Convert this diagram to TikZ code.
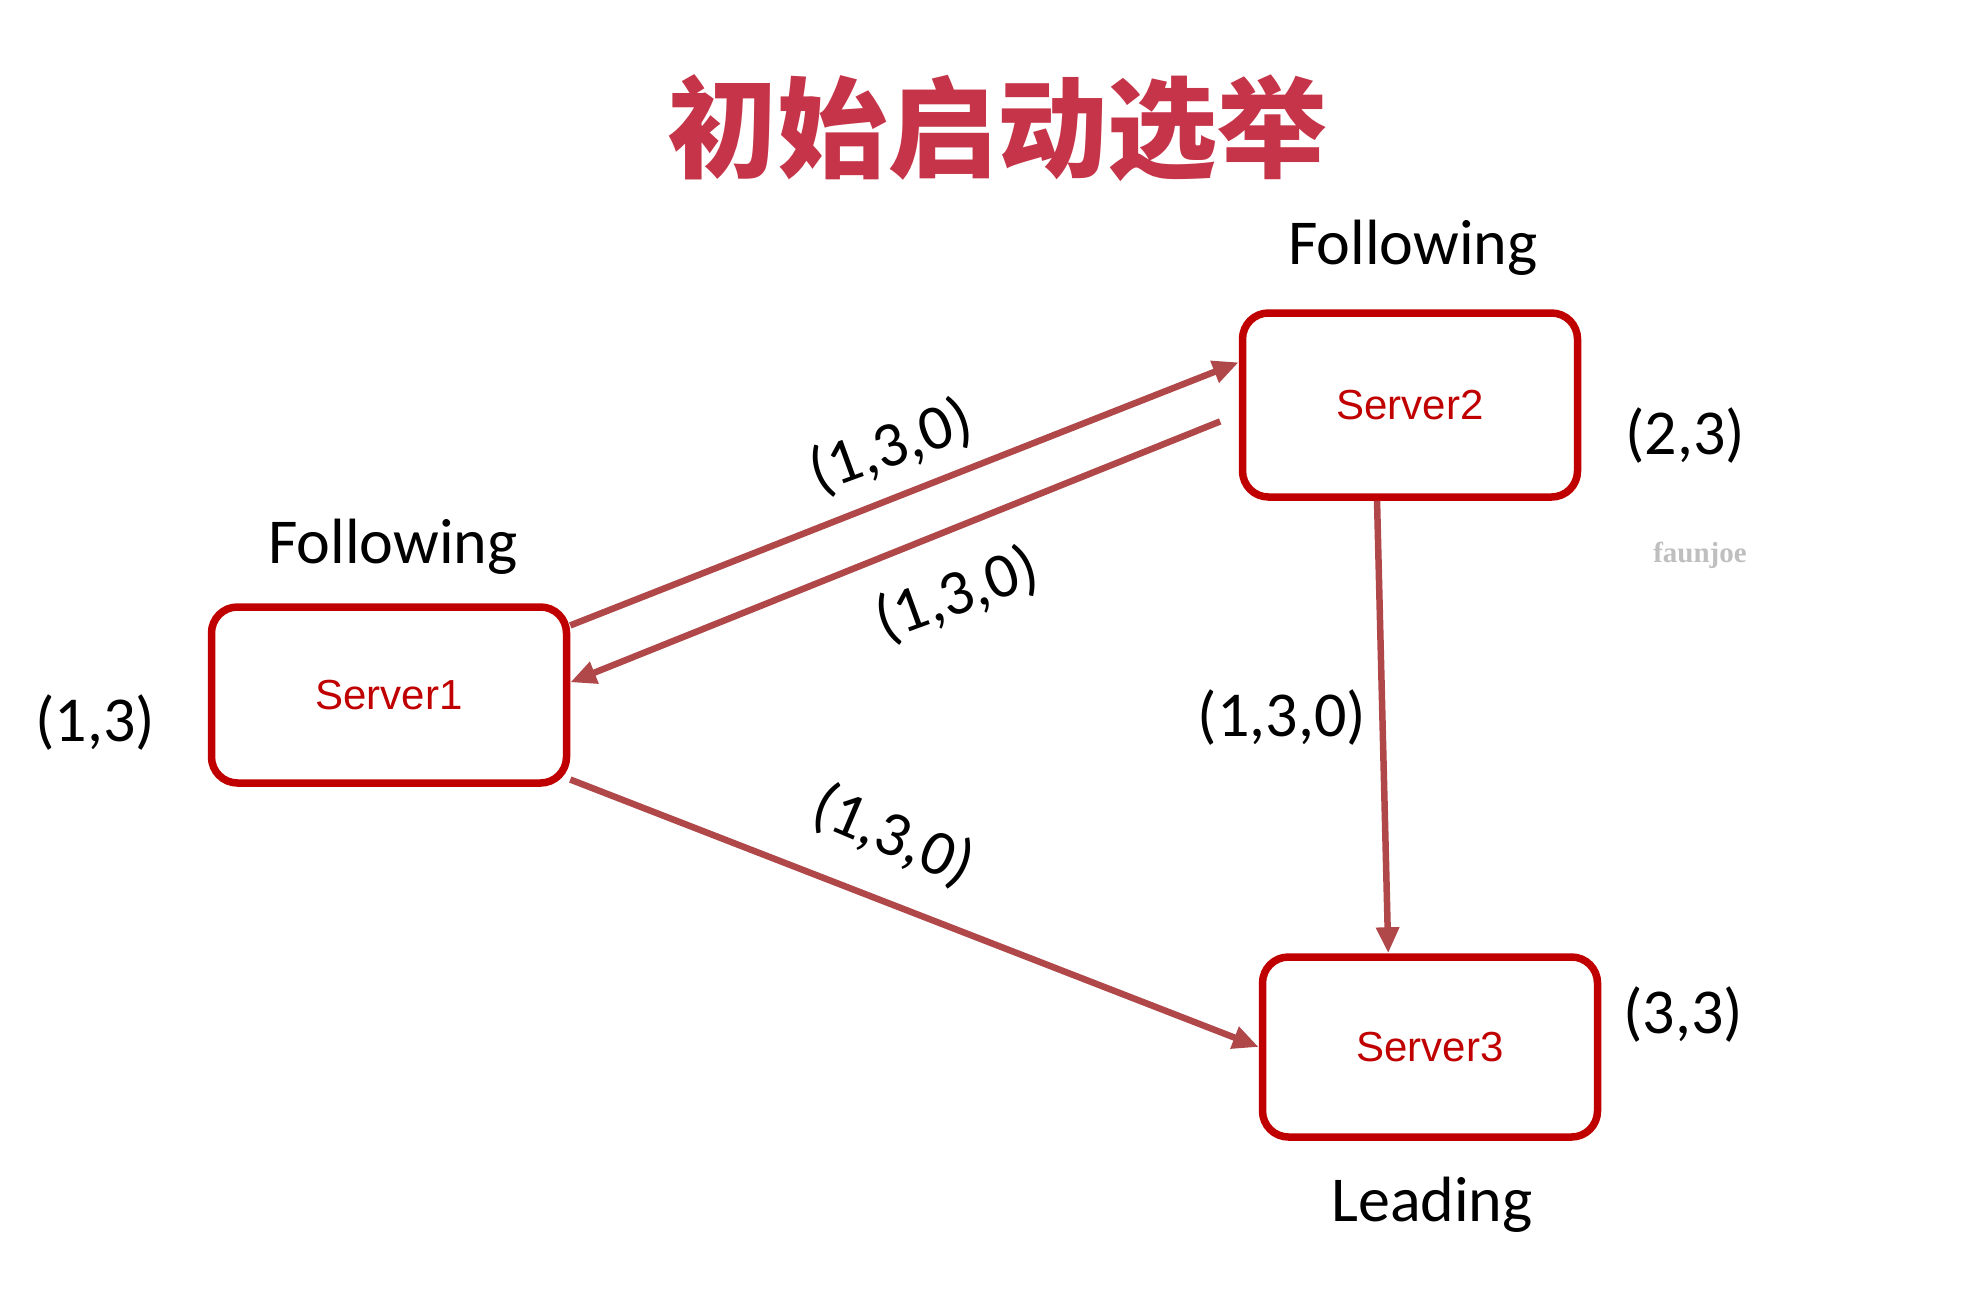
\documentclass[tikz,border=0pt]{standalone}
\usepackage{fontspec}
\setmainfont{Carlito}
\newfontfamily\cjk{Noto Sans CJK SC}
\newfontfamily\arialfont{Liberation Sans}
\newfontfamily\markfont{Liberation Serif}
\usepackage{xcolor}
\usetikzlibrary{positioning,arrows.meta,calc}

\definecolor{titlered}{RGB}{197,52,72}
\definecolor{boxred}{RGB}{192,0,0}
\definecolor{msgred}{RGB}{176,72,74}

\begin{document}
\begin{tikzpicture}[
          x=1pt, y=-1pt,
          every node/.style={font=\fontsize{64}{64}\selectfont},
          server/.style={draw=boxred, line width=7.5pt, rounded corners=26pt, fill=white, minimum width=335pt, minimum height=180pt, text=boxred, font=\arialfont\fontsize{42}{42}\selectfont},
          msg/.style={draw=msgred, line width=6.5pt, -{Triangle[length=26pt,width=22pt]}},
          tuple/.style={inner sep=0pt}
      ]
        \useasboundingbox (0,0) rectangle (1986,1296);
        % title
        \node (title) at (997,128) {\cjk\bfseries\color{titlered}\fontsize{110}{110}\selectfont 初始启动选举};
        % servers
        \node[server, minimum width=355pt, minimum height=176pt] (s1) at (389,695) {Server1};
        \node[server, minimum height=184pt] (s2) at (1410,405) {Server2};
        \node[server] (s3) at (1430,1047) {Server3};
        % states and votes
        \node (f1) at (393,547) {Following};
        \node (f2) at (1413,248) {Following};
        \node (l3) at (1432,1205) {Leading};
        \node (v1) at (95,723) {(1,3)};
        \node (v2) at (1685,436) {(2,3)};
        \node (v3) at (1683,1015) {(3,3)};
        \node[font=\markfont\bfseries\fontsize{29}{29}\selectfont, text=black!25] (wm) at (1700,555) {faunjoe};
        % messages
        \draw[msg] (s1.21) -- (s2.166);
        \draw[msg, shorten <=20pt] (s2.183) -- (s1.4.5);
        \draw[msg] (s1.-25) -- (s3.west);
        \draw[msg] (s2.-109) -- (s3.114);
        \node[tuple, rotate=20] (m12) at (891,447) {(1,3,0)};
        \node[tuple, rotate=20] (m21) at (957,595) {(1,3,0)};
        \node[tuple, rotate=-23] (m13) at (893,836) {(1,3,0)};
        \node[tuple] (m23) at (1282,718) {(1,3,0)};
      \end{tikzpicture}
\end{document}
